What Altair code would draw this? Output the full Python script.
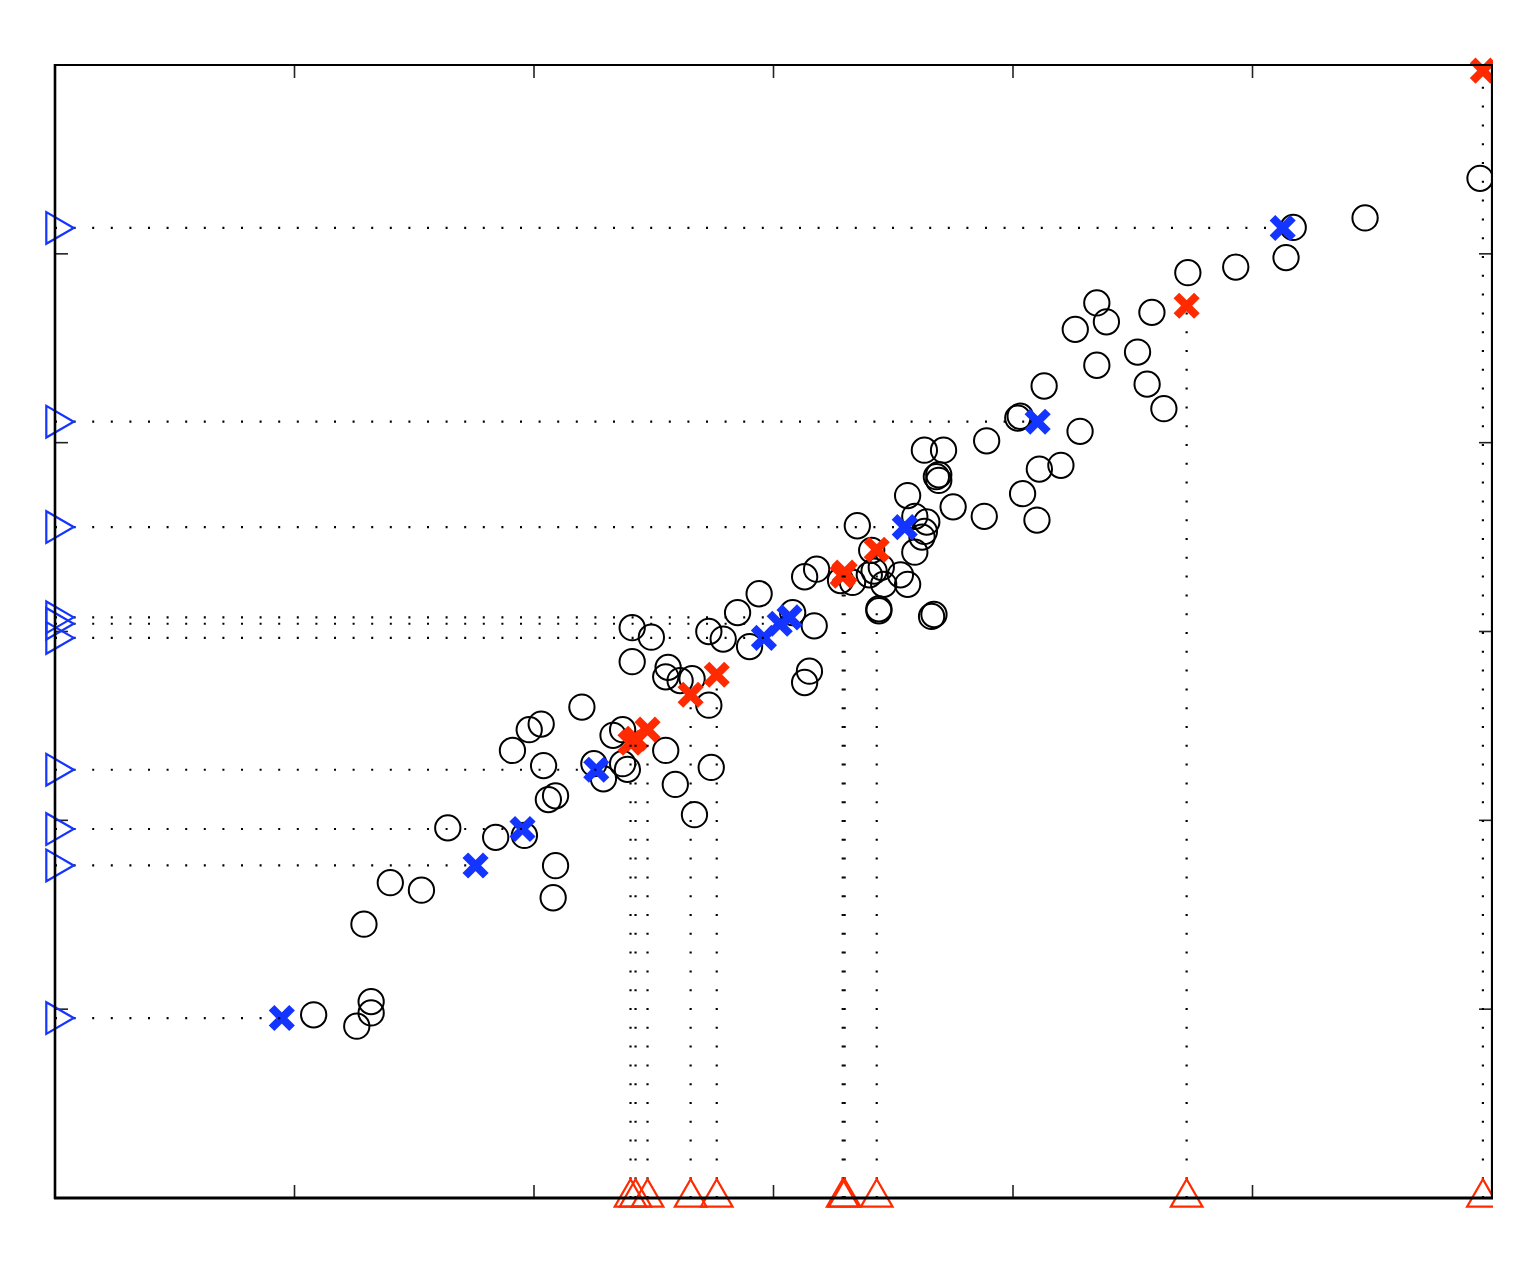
import altair as alt
import pandas as pd

# ---- data (axis units, both axes 0..6) ----
circle_x = [1.08, 1.26, 1.32, 1.32, 1.29, 1.40, 1.53, 1.64, 1.84, 1.96,
            2.09, 2.08, 2.06, 2.09, 1.91, 1.98, 2.03, 2.04, 2.20, 2.33,
            2.37, 2.25, 2.29, 2.37, 2.39, 2.55, 2.59, 2.67, 2.74, 2.73,
            2.66, 2.61, 2.55, 2.56, 2.41, 2.49, 2.41, 2.73, 2.79, 2.85,
            2.94, 2.90, 3.08, 3.17, 3.15, 3.13, 3.13, 3.18, 3.28, 3.33,
            3.35, 3.41, 3.42, 3.40, 3.45, 3.46, 3.53, 3.56, 3.44, 3.44,
            3.66, 3.67, 3.56, 3.59, 3.64, 3.63, 3.62, 3.59, 3.63, 3.71,
            3.68, 3.69, 3.69, 3.75, 3.88, 3.89, 4.02, 4.03, 4.13, 4.28,
            4.11, 4.20, 4.04, 4.10, 4.35, 4.26, 4.35, 4.39, 4.52, 4.56,
            4.63, 4.58, 4.73, 4.93, 5.14, 5.17, 5.47, 5.95]
circle_y = [0.97, 0.91, 0.98, 1.04, 1.45, 1.67, 1.63, 1.96, 1.91, 1.92,
            1.76, 1.59, 2.11, 2.13, 2.37, 2.48, 2.51, 2.29, 2.60, 2.45,
            2.48, 2.30, 2.22, 2.30, 2.27, 2.37, 2.19, 2.03, 2.28, 2.61,
            2.75, 2.74, 2.76, 2.81, 3.02, 2.97, 2.84, 3.00, 2.96, 3.10,
            3.20, 2.92, 3.10, 3.03, 2.79, 2.73, 3.29, 3.33, 3.27, 3.26,
            3.56, 3.43, 3.32, 3.30, 3.34, 3.25, 3.30, 3.25, 3.12, 3.11,
            3.08, 3.09, 3.72, 3.61, 3.58, 3.53, 3.50, 3.42, 3.96, 3.96,
            3.82, 3.83, 3.80, 3.66, 3.61, 4.01, 4.13, 4.14, 4.30, 4.06,
            3.86, 3.88, 3.73, 3.59, 4.41, 4.60, 4.74, 4.64, 4.48, 4.31,
            4.18, 4.69, 4.90, 4.93, 4.98, 5.14, 5.19, 5.40]

blue_x = [0.947, 1.756, 1.952, 2.260, 2.960, 3.026, 3.067, 3.548, 4.103, 5.126]
blue_y = [0.953, 1.761, 1.954, 2.268, 2.966, 3.041, 3.075, 3.553, 4.111, 5.137]

red_x = [2.403, 2.424, 2.474, 2.654, 2.763, 3.289, 3.297, 3.431, 4.725, 5.962]
red_y = [2.411, 2.432, 2.480, 2.665, 2.771, 3.296, 3.312, 3.433, 4.725, 5.970]

x_ticks = [1, 2, 3, 4, 5]
y_ticks = [1, 2, 3, 4, 5]

# ---- styling ----
W, H = 1437, 1133
BLUE = "#1434ff"
RED = "#ff2a00"
XPATH = "M-1,-1L1,1M-1,1L1,-1"
TICK = 13

xs = alt.Scale(domain=[0, 6], nice=False, zero=False)
ys = alt.Scale(domain=[0, 6], nice=False, zero=False)

circles = pd.DataFrame({"x": circle_x, "y": circle_y})
blue = pd.DataFrame({"x": blue_x, "y": blue_y})
red = pd.DataFrame({"x": red_x, "y": red_y})
xt = pd.DataFrame({"t": x_ticks})
yt = pd.DataFrame({"t": y_ticks})
one = pd.DataFrame({"k": [0]})

X = alt.X("x:Q", scale=xs, axis=None)
Y = alt.Y("y:Q", scale=ys, axis=None)

tick_b = alt.Chart(xt).mark_rule(color="#222", strokeWidth=1.6).encode(
    x=alt.X("t:Q", scale=xs, axis=None), y=alt.value(H), y2=alt.value(H - TICK))
tick_t = alt.Chart(xt).mark_rule(color="#222", strokeWidth=1.6).encode(
    x=alt.X("t:Q", scale=xs, axis=None), y=alt.value(0), y2=alt.value(TICK))
tick_l = alt.Chart(yt).mark_rule(color="#222", strokeWidth=1.6).encode(
    y=alt.Y("t:Q", scale=ys, axis=None), x=alt.value(0), x2=alt.value(TICK))
tick_r = alt.Chart(yt).mark_rule(color="#222", strokeWidth=1.6).encode(
    y=alt.Y("t:Q", scale=ys, axis=None), x=alt.value(W), x2=alt.value(W - TICK))

circ = alt.Chart(circles).mark_point(
    shape="circle", filled=False, size=640, color="black", strokeWidth=2, opacity=1
).encode(x=X, y=Y)

bx = alt.Chart(blue).mark_point(
    shape=XPATH, filled=False, size=420, color=BLUE, strokeWidth=8, strokeCap="butt", opacity=1
).encode(x=X, y=Y)
rx = alt.Chart(red).mark_point(
    shape=XPATH, filled=False, size=420, color=RED, strokeWidth=8, strokeCap="butt", opacity=1
).encode(x=X, y=Y)

hdots = alt.Chart(blue).transform_calculate(x0="0").mark_rule(
    color="black", strokeWidth=2.2, strokeDash=[2, 16.6]
).encode(x=alt.X("x0:Q", scale=xs, axis=None), x2="x:Q", y=Y)
vdots = alt.Chart(red).transform_calculate(y0="0").mark_rule(
    color="black", strokeWidth=2.2, strokeDash=[2, 16.8]
).encode(x=X, y=alt.Y("y0:Q", scale=ys, axis=None), y2="y:Q")

btri = alt.Chart(blue).transform_calculate(x0="0").mark_point(
    shape="triangle-right", filled=False, size=1000, color=BLUE, strokeWidth=2.2, xOffset=5, opacity=1
).encode(x=alt.X("x0:Q", scale=xs, axis=None), y=Y)
rtri = alt.Chart(red).transform_calculate(y0="0").mark_point(
    shape="triangle-up", filled=False, size=1000, color=RED, strokeWidth=2.2, yOffset=-5, opacity=1
).encode(x=X, y=alt.Y("y0:Q", scale=ys, axis=None))

frame_t = alt.Chart(one).mark_rule(color="black", strokeWidth=2).encode(
    x=alt.value(0), x2=alt.value(W), y=alt.value(0))
frame_b = alt.Chart(one).mark_rule(color="black", strokeWidth=3.2).encode(
    x=alt.value(-1), x2=alt.value(W + 1), y=alt.value(H))
frame_l = alt.Chart(one).mark_rule(color="black", strokeWidth=2.6).encode(
    x=alt.value(0), y=alt.value(-1), y2=alt.value(H + 1))
frame_r = alt.Chart(one).mark_rule(color="black", strokeWidth=2.2).encode(
    x=alt.value(W), y=alt.value(-1), y2=alt.value(H + 1))

chart = alt.layer(
    tick_b, tick_t, tick_l, tick_r,
    circ, bx, rx, hdots, vdots, btri, rtri,
    frame_t, frame_b, frame_l, frame_r,
).properties(
    width=W, height=H,
    padding={"left": 47, "top": 57, "right": 1, "bottom": 50},
    autosize=alt.AutoSizeParams(type="none"),
    background="white",
).configure_view(stroke=None)

chart.save("out.html", embed_options={"renderer": "svg", "actions": False})
